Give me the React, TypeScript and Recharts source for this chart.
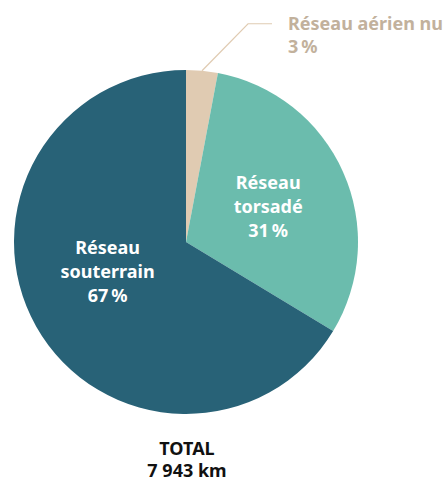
import { PieChart, Pie, Cell } from 'recharts';

const categories = ['Réseau aérien nu', 'Réseau torsadé', 'Réseau souterrain'];
const labelLines = [['Réseau aérien nu'], ['Réseau', 'torsadé'], ['Réseau', 'souterrain']];
const shares = [3, 31, 67];
const colors = ['#e0cbb2', '#6bbcad', '#286277'];
const totalLines = ['TOTAL', '7 943 km'];

const data = categories.map((name, i) => ({ name, value: shares[i] }));

const RAD = Math.PI / 180;
const FONT = '"Noto Sans", Lato, sans-serif';

function renderLabel(props: any) {
  const { cx, cy, midAngle, outerRadius, index } = props;
  const pct = `${shares[index]}\u202F%`;
  if (index === 0) {
    // outside label with leader line
    const sx = cx + outerRadius * Math.cos(-midAngle * RAD);
    const sy = cy + outerRadius * Math.sin(-midAngle * RAD);
    const mx = sx + 46;
    const my = sy - 47;
    const ex = mx + 24;
    return (
      <g>
        <polyline points={`${sx},${sy} ${mx},${my} ${ex},${my}`} fill="none" stroke="#e0cbb2" strokeWidth={1.2} />
        <text x={ex + 16} y={my} fill="#c2b19c" fontFamily={FONT} fontWeight={700} fontSize={18}>
          <tspan x={ex + 16} dy={6}>{labelLines[0][0]}</tspan>
          <tspan x={ex + 16} dy={23}>{pct}</tspan>
        </text>
      </g>
    );
  }
  const r = 90;
  const x = cx + r * Math.cos(-midAngle * RAD);
  const y = cy + r * Math.sin(-midAngle * RAD) - (index === 2 ? 14 : -2);
  const lines = [...labelLines[index], pct];
  return (
    <text x={x} y={y} fill="#ffffff" textAnchor="middle" fontFamily={FONT} fontWeight={700} fontSize={18}>
      {lines.map((l, i) => (
        <tspan key={i} x={x} dy={i === 0 ? -18 : 24}>{l}</tspan>
      ))}
    </text>
  );
}

export default function App() {
  return (
    <div style={{ position: 'absolute', left: 0, top: 0, width: 445, height: 483, background: '#fff' }}>
      <PieChart width={445} height={483} margin={{ top: 0, right: 0, bottom: 0, left: 0 }}>
        <Pie
          data={data}
          dataKey="value"
          cx={186}
          cy={242}
          outerRadius={172}
          startAngle={90}
          endAngle={-270}
          stroke="none"
          label={renderLabel}
          labelLine={false}
          isAnimationActive={false}
        >
          {data.map((d, i) => (
            <Cell key={d.name} fill={colors[i]} />
          ))}
        </Pie>
        <text x={187} y={455} textAnchor="middle" fill="#111" fontFamily={FONT} fontWeight={700} fontSize={18}>
          <tspan x={187} dy={0}>{totalLines[0]}</tspan>
          <tspan x={187} dy={22}>{totalLines[1]}</tspan>
        </text>
      </PieChart>
    </div>
  );
}
